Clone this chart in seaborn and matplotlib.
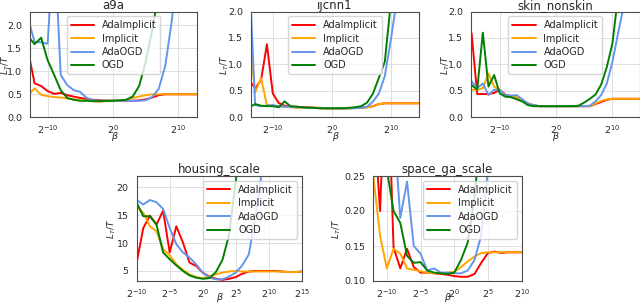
import numpy as np
import pandas as pd
import matplotlib
matplotlib.use("Agg")
import matplotlib.pyplot as plt
import seaborn as sns

methods = ["AdaImplicit", "Implicit", "AdaOGD", "OGD"]
colors = ["red", "orange", "cornflowerblue", "green"]

# ---- a9a (exponents of 2) ----
a9a_exp = list(range(-13, 14))
a9a_ada_implicit = [1.45, 0.74, 0.68, 0.57, 0.51, 0.53, 0.48, 0.45, 0.42, 0.40, 0.38, 0.37, 0.36, 0.36,
                    0.36, 0.36, 0.36, 0.37, 0.39, 0.43, 0.48, 0.50, 0.50, 0.50, 0.50, 0.50, 0.50]
a9a_implicit = [0.48, 0.63, 0.49, 0.46, 0.44, 0.43, 0.41, 0.39, 0.37, 0.36, 0.35, 0.34, 0.35, 0.35,
                0.36, 0.38, 0.42, 0.45, 0.48, 0.50, 0.50, 0.50, 0.50, 0.50, 0.50, 0.50, 0.50]
a9a_ada_ogd = [2.15, 1.64, 1.63, 1.60, 3.93, 0.92, 0.70, 0.59, 0.55, 0.42, 0.37, 0.36, 0.36, 0.36,
               0.36, 0.36, 0.36, 0.36, 0.37, 0.44, 0.62, 1.12, 2.10, 3.50, 5.00, 7.00, 9.00]
a9a_ogd = [1.76, 1.59, 1.73, 1.24, 0.92, 0.59, 0.42, 0.38, 0.36, 0.36, 0.35, 0.35, 0.36, 0.36,
           0.37, 0.38, 0.45, 0.68, 1.20, 1.90, 2.70, 4.00, 5.50, 7.00, 9.00, 11.0, 13.0]

# ---- ijcnn1 ----
ijcnn1_exp = list(range(-14, 16))
ijcnn1_ada_implicit = [0.70, 0.55, 0.70, 1.38, 0.45, 0.27, 0.22, 0.20, 0.20, 0.19, 0.19, 0.18, 0.18, 0.17, 0.17,
                       0.17, 0.17, 0.17, 0.18, 0.18, 0.19, 0.21, 0.25, 0.265, 0.265, 0.265, 0.265, 0.265, 0.265, 0.265]
ijcnn1_implicit = [1.60, 0.47, 0.74, 0.23, 0.22, 0.21, 0.20, 0.19, 0.18, 0.18, 0.18, 0.18, 0.17, 0.17, 0.17,
                   0.17, 0.17, 0.17, 0.18, 0.18, 0.19, 0.21, 0.25, 0.265, 0.265, 0.265, 0.265, 0.265, 0.265, 0.265]
ijcnn1_ada_ogd = [2.76, 0.23, 0.21, 0.22, 0.23, 0.21, 0.20, 0.20, 0.19, 0.19, 0.18, 0.18, 0.17, 0.17, 0.17,
                  0.17, 0.17, 0.17, 0.17, 0.18, 0.20, 0.30, 0.45, 0.78, 1.45, 2.20, 3.50, 5.00, 7.00, 9.00]
ijcnn1_ogd = [0.19, 0.25, 0.22, 0.21, 0.21, 0.19, 0.30, 0.21, 0.20, 0.19, 0.18, 0.18, 0.17, 0.17, 0.17,
              0.17, 0.17, 0.18, 0.19, 0.21, 0.28, 0.45, 0.75, 1.05, 2.15, 4.00, 6.00, 8.00, 10.0, 12.0]

# ---- skin_nonskin ----
skin_exp = list(range(-15, 16))
skin_ada_implicit = [1.59, 0.44, 0.44, 0.44, 0.46, 0.52, 0.43, 0.40, 0.37, 0.32, 0.26, 0.23, 0.21, 0.21, 0.21, 0.21,
                     0.21, 0.21, 0.21, 0.21, 0.21, 0.21, 0.25, 0.29, 0.33, 0.35, 0.35, 0.35, 0.35, 0.35, 0.35]
skin_implicit = [0.52, 0.52, 0.55, 0.83, 0.58, 0.52, 0.42, 0.40, 0.38, 0.32, 0.26, 0.23, 0.21, 0.21, 0.21, 0.21,
                 0.21, 0.21, 0.21, 0.21, 0.21, 0.21, 0.26, 0.31, 0.34, 0.35, 0.35, 0.35, 0.35, 0.35, 0.35]
skin_ada_ogd = [0.68, 0.55, 0.64, 0.42, 0.52, 0.52, 0.42, 0.41, 0.42, 0.34, 0.26, 0.23, 0.21, 0.21, 0.21, 0.21,
                0.21, 0.21, 0.21, 0.21, 0.21, 0.22, 0.30, 0.42, 0.64, 1.05, 1.59, 2.10, 3.00, 4.00, 5.00]
skin_ogd = [0.61, 0.52, 1.60, 0.58, 0.80, 0.45, 0.39, 0.38, 0.34, 0.30, 0.23, 0.21, 0.21, 0.21, 0.21, 0.21,
            0.21, 0.21, 0.21, 0.22, 0.28, 0.35, 0.43, 0.62, 0.95, 1.40, 2.30, 3.50, 5.00, 6.50, 8.00]

# ---- housing_scale ----
housing_exp = list(range(-10, 16))
housing_ada_implicit = [6.5, 12.7, 14.9, 13.3, 15.8, 8.3, 13.0, 10.1, 6.5, 5.9, 4.7, 4.0, 3.6, 3.4, 3.6, 3.9,
                        4.5, 4.9, 5.0, 5.0, 5.0, 5.0, 4.9, 4.8, 4.8, 4.9]
housing_implicit = [16.6, 15.4, 13.0, 12.1, 8.9, 7.8, 6.2, 5.2, 4.4, 3.9, 3.7, 4.0, 4.4, 4.7, 4.9, 5.0,
                    4.9, 4.9, 4.9, 4.9, 4.9, 4.9, 4.9, 4.8, 4.8, 4.9]
housing_ada_ogd = [17.7, 16.9, 17.7, 17.3, 16.1, 12.7, 9.8, 8.3, 7.4, 6.2, 4.7, 3.8, 3.5, 3.5, 4.0, 4.7,
                   6.0, 8.0, 15.0, 23.0, 32.0, 40.0, 48.0, 56.0, 64.0, 72.0]
housing_ogd = [17.2, 14.8, 14.8, 13.3, 8.3, 7.1, 6.0, 5.0, 4.2, 3.8, 3.6, 3.7, 4.8, 7.0, 11.5, 21.0,
               30.0, 40.0, 50.0, 60.0, 70.0, 80.0, 90.0, 100.0, 110.0, 120.0]

# ---- space_ga_scale ----
space_exp = list(range(-12, 11))
space_ada_implicit = [0.35, 0.20, 0.45, 0.148, 0.118, 0.146, 0.12, 0.112, 0.112, 0.111, 0.11, 0.109,
                      0.107, 0.106, 0.106, 0.11, 0.126, 0.14, 0.142, 0.14, 0.141, 0.141, 0.141]
space_implicit = [0.25, 0.165, 0.118, 0.146, 0.139, 0.118, 0.116, 0.114, 0.112, 0.111, 0.111, 0.112,
                  0.113, 0.12, 0.128, 0.135, 0.14, 0.141, 0.141, 0.141, 0.141, 0.141, 0.141]
space_ada_ogd = [0.50, 0.45, 0.40, 0.33, 0.19, 0.242, 0.15, 0.139, 0.115, 0.118, 0.112, 0.112,
                 0.111, 0.111, 0.115, 0.13, 0.165, 0.26, 0.40, 0.55, 0.70, 0.85, 1.00]
space_ogd = [0.50, 0.40, 0.26, 0.20, 0.183, 0.136, 0.126, 0.127, 0.115, 0.112, 0.111, 0.110,
             0.112, 0.13, 0.155, 0.22, 0.32, 0.45, 0.60, 0.75, 0.90, 1.05, 1.20]

panels = [
    dict(title="a9a", exp=a9a_exp, series=[a9a_ada_implicit, a9a_implicit, a9a_ada_ogd, a9a_ogd],
         xlim=(-12.7, 12.9), ylim=(0, 2.3), xticks=[-10, 0, 10], yticks=[0, 0.5, 1.0, 1.5, 2.0],
         rect=(30, 11.5, 197.3, 117.3), loc="upper center", ylab_off=18.5, xlab_off=15.0),
    dict(title="ijcnn1", exp=ijcnn1_exp, series=[ijcnn1_ada_implicit, ijcnn1_implicit, ijcnn1_ada_ogd, ijcnn1_ogd],
         xlim=(-13.7, 14.8), ylim=(0, 2.0), xticks=[-10, 0, 10], yticks=[0, 0.5, 1.0, 1.5, 2.0],
         rect=(251, 11.5, 419, 117.3), loc="upper center", ylab_off=20.0, xlab_off=15.0),
    dict(title="skin_nonskin", exp=skin_exp, series=[skin_ada_implicit, skin_implicit, skin_ada_ogd, skin_ogd],
         xlim=(-15.1, 14.8), ylim=(0, 2.0), xticks=[-10, 0, 10], yticks=[0, 0.5, 1.0, 1.5, 2.0],
         rect=(471, 11.5, 639.5, 117.3), loc="upper center", ylab_off=19.5, xlab_off=15.0),
    dict(title="housing_scale", exp=housing_exp, series=[housing_ada_implicit, housing_implicit, housing_ada_ogd, housing_ogd],
         xlim=(-10, 15), ylim=(3.2, 22), xticks=[-10, -5, 0, 5, 10, 15], yticks=[5, 10, 15, 20],
         rect=(136.7, 176.0, 301.7, 281.0), loc="upper right", ylab_off=18.5, xlab_off=12.5),
    dict(title="space_ga_scale", exp=space_exp, series=[space_ada_implicit, space_implicit, space_ada_ogd, space_ogd],
         xlim=(-12, 10), ylim=(0.10, 0.25), xticks=[-10, -5, 0, 5, 10], yticks=[0.10, 0.15, 0.20, 0.25],
         rect=(373.3, 176.0, 521.7, 281.0), loc="upper right", ylab_off=30.0, xlab_off=12.5),
]

sns.set_style("whitegrid", {"axes.edgecolor": "0.3", "grid.color": "0.87"})
plt.rcParams["font.family"] = ["DejaVu Sans"]
plt.rcParams["axes.linewidth"] = 0.8
plt.rcParams["grid.linewidth"] = 0.7

W, H = 640, 305
fig = plt.figure(figsize=(W / 100, H / 100), dpi=100)

for p in panels:
    x0, y0, x1, y1 = p["rect"]
    ax = fig.add_axes([x0 / W, 1 - y1 / H, (x1 - x0) / W, (y1 - y0) / H])
    beta = 2.0 ** np.array(p["exp"], dtype=float)
    for name, col, vals in zip(methods, colors, p["series"]):
        df = pd.DataFrame({"beta": beta, "loss": vals})
        sns.lineplot(data=df, x="beta", y="loss", ax=ax, color=col, label=name, lw=1.4)
    ax.set_xscale("log", base=2)
    ax.set_xlim(2.0 ** p["xlim"][0], 2.0 ** p["xlim"][1])
    ax.set_ylim(*p["ylim"])
    ax.set_xticks([2.0 ** t for t in p["xticks"]])
    ax.set_xticklabels([r"$2^{%d}$" % t for t in p["xticks"]])
    ax.xaxis.set_minor_locator(matplotlib.ticker.NullLocator())
    ax.set_yticks(p["yticks"])
    ax.tick_params(axis="x", labelsize=6.8, pad=0.8)
    ax.tick_params(axis="y", labelsize=6.8, pad=2.2)
    ax.set_xlabel("β", fontsize=6.8, style="italic")
    ax.set_ylabel(r"$L_T/T$", fontsize=6.5)
    aw, ah = (x1 - x0), (y1 - y0)
    ax.yaxis.set_label_coords(-p["ylab_off"] / aw, 0.5)
    ax.xaxis.set_label_coords(0.5, -p["xlab_off"] / ah)
    ax.set_title(p["title"], fontsize=8.5, pad=2)
    ax.legend(loc=p["loc"], fontsize=7, handlelength=2.4, borderpad=0.4, labelspacing=0.35)

fig.savefig("out.png", dpi=100)
